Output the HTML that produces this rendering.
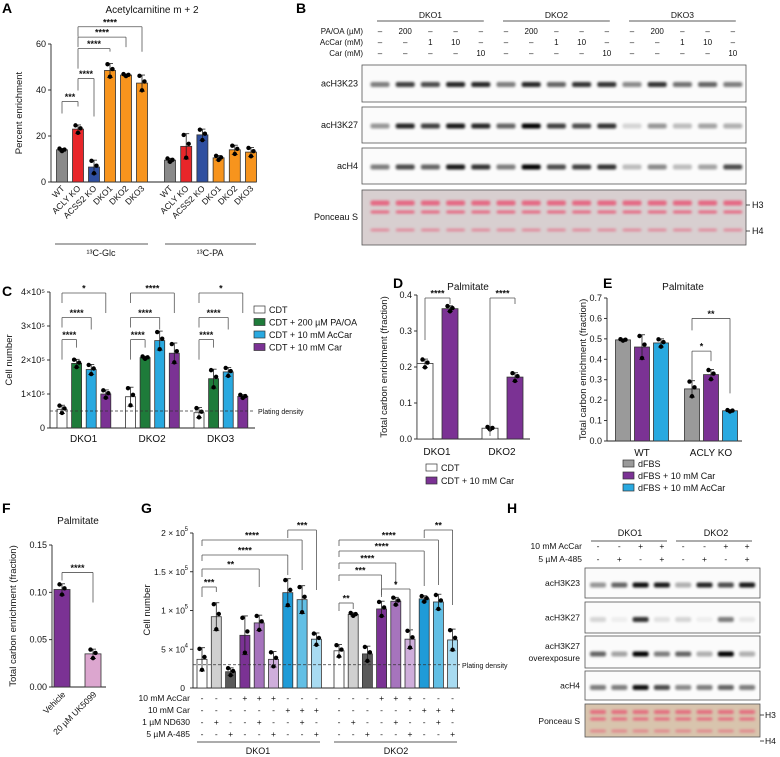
<!DOCTYPE html>
<html><head><meta charset="utf-8">
<style>
html,body{margin:0;padding:0;background:#fff;}
svg{display:block;font-family:"Liberation Sans",Arial,sans-serif;}
</style></head>
<body>
<svg id="fig" width="780" height="757" viewBox="0 0 780 757" xmlns="http://www.w3.org/2000/svg">
<defs>
<filter id="blur" x="-30%" y="-100%" width="160%" height="300%"><feGaussianBlur stdDeviation="1.3"/></filter>
</defs>
<g id="root"></g>
</svg>
<script>
// ---------- Panel A data ----------
const aCats = ["WT","ACLY KO","ACSS2 KO","DKO1","DKO2","DKO3"];
const aGlc = [14, 23, 6.5, 48.5, 46.5, 43];
const aGlcErr = [0.6, 1.8, 3, 3, 0.5, 3.5];
const aPA = [9.5, 15.5, 20.5, 10.5, 14, 13];
const aPAErr = [0.8, 5.5, 2.5, 1, 2, 2];
const aTicks = [0, 20, 40, 60];
// ---------- Panel C data ----------
const cGroups = ["DKO1","DKO2","DKO3"];
const cSeries = ["CDT","CDT + 200 \u00b5M PA/OA","CDT + 10 mM AcCar","CDT + 10 mM Car"];
const cCDT = [0.55, 0.92, 0.45];
const cPAOA = [1.9, 2.07, 1.45];
const cAcCar = [1.72, 2.57, 1.65];
const cCar = [1.0, 2.2, 0.93];
const cErr = [[0.12,0.28,0.15],[0.12,0.04,0.28],[0.15,0.28,0.13],[0.12,0.3,0.05]];
const cTicks = [0, 1, 2, 3, 4];
const cPlating = 0.5;
// ---------- Panel D data ----------
const dGroups = ["DKO1","DKO2"];
const dCDT = [0.21, 0.03];
const dCar = [0.362, 0.172];
const dErr = [[0.012,0.004],[0.008,0.012]];
const dTicks = [0, 0.1, 0.2, 0.3, 0.4];
// ---------- Panel E data ----------
const eGroups = ["WT","ACLY KO"];
const eFBS = [0.495, 0.255];
const eCar = [0.46, 0.325];
const eAcCar = [0.48, 0.148];
const eErr = [[0.004,0.04],[0.06,0.025],[0.02,0.004]];
const eTicks = [0, 0.1, 0.2, 0.3, 0.4, 0.5, 0.6, 0.7];
// ---------- Panel F data ----------
const fCats = ["Vehicle","20 \u00b5M UK5099"];
const fVals = [0.103, 0.035];
const fErr = [0.006, 0.005];
const fTicks = [0, 0.05, 0.10, 0.15];
// ---------- Panel G data ----------
const gDKO1 = [0.37, 0.92, 0.21, 0.68, 0.84, 0.37, 1.23, 1.14, 0.63];
const gDKO2 = [0.48, 0.95, 0.44, 1.02, 1.12, 0.63, 1.15, 1.11, 0.62];
const gErr1 = [0.15, 0.18, 0.05, 0.25, 0.1, 0.1, 0.18, 0.18, 0.08];
const gErr2 = [0.08, 0.02, 0.1, 0.1, 0.05, 0.12, 0.04, 0.1, 0.14];
const gTickVals = [0, 0.5, 1, 1.5, 2];
const gTickLabels = ["0","5 \u00d7 10","1 \u00d7 10","1.5 \u00d7 10","2 \u00d7 10"];
const gTickExp = ["","4","5","5","5"];
const gPlating = 0.3;
const gAcCar = ["-","-","-","+","+","+","-","-","-"];
const gCar = ["-","-","-","-","-","-","+","+","+"];
const gND = ["-","+","-","-","+","-","-","+","-"];
const gA485 = ["-","-","+","-","-","+","-","-","+"];
// ---------- Blot data ----------
const bK23 = [.5,.75,.7,.85,.85,.5,.85,.6,.8,.8,.45,.8,.55,.6,.5];
const bK27 = [.4,.85,.75,.9,.85,.6,1,.75,.7,.8,.15,.4,.25,.35,.3];
const bH4 = [.5,.7,.6,.9,.8,.5,1,.7,.75,.8,.25,.45,.25,.35,.7];
const bPAOA = ["\u2013","200","\u2013","\u2013","\u2013"];
const bAcCar = ["\u2013","\u2013","1","10","\u2013"];
const bCar = ["\u2013","\u2013","\u2013","\u2013","10"];
const hK23 = [.4,.6,.95,.9,.3,.85,.7,.9];
const hK27 = [.15,.05,.8,.1,.15,.05,.5,.08];
const hK27o = [.6,.35,1,.5,.6,.3,1,.3];
const hH4 = [.5,.5,.95,.7,.45,.5,.6,.5];
const hAcCar = ["-","-","+","+","-","-","+","+"];
const hA485 = ["-","+","-","+","-","+","-","+"];

const NS = "http://www.w3.org/2000/svg";
const root = document.getElementById("root");
function mk(tag, attrs, parent, txt){
  const e = document.createElementNS(NS, tag);
  for (const k in attrs) e.setAttribute(k, attrs[k]);
  if (txt !== undefined) e.textContent = txt;
  (parent || root).appendChild(e);
  return e;
}
function grp(name){
  const g = mk("g", {});
  
  
  return g;
}
function txt(g, x, y, s, size, anchor, name, extra){
  const a = {x:x, y:y, "font-size":size||9, "text-anchor":anchor||"middle", fill:"#111"};
  if (extra) for (const k in extra) a[k]=extra[k];
  const t = mk("text", a, g, s);
  
  
  return t;
}
function line(g, x1,y1,x2,y2, color, w, dash){
  const a = {x1:x1,y1:y1,x2:x2,y2:y2,stroke:color||"#222","stroke-width":w||0.8};
  if (dash) a["stroke-dasharray"]=dash;
  const l = mk("line", a, g);
  
  
  return l;
}
function yAxis(g, x, y0, yTop, max, ticks, fmt, title, titleX){
  const sc = v => y0 - v*(y0-yTop)/max;
  line(g, x, y0, x, yTop, "#222", 0.9);
  ticks.forEach(t => {
    line(g, x-3, sc(t), x, sc(t), "#222", 0.9);
    txt(g, x-5, sc(t)+3, fmt(t), 9, "end", "y-tick-label");
  });
  if (title) {
    const tt = txt(g, titleX, (y0+yTop)/2, title, 9.5, "middle", "y-axis-title", {transform:"rotate(-90 "+titleX+" "+((y0+yTop)/2)+")"});
  }
  return sc;
}
function bar(g, cx, w, sc, v, err, fill, name){
  const r = mk("rect", {x:cx-w/2, y:sc(v), width:w, height:sc(0)-sc(v), fill:fill, stroke:"#333","stroke-width":0.8}, g);
  
  
  line(g, cx, sc(v-err), cx, sc(v+err), "#222", 0.8);
  line(g, cx-3, sc(v+err), cx+3, sc(v+err), "#222", 0.8);
  line(g, cx-3, sc(v-err), cx+3, sc(v-err), "#222", 0.8);
  [[-2.5, 0.9],[0,-0.9],[2.5,0.2]].forEach(p => {
    const c = mk("circle", {cx:cx+p[0], cy:sc(v+p[1]*err), r:2.2, fill:"#000"}, g);
    
    
  });
}
function bracket(g, x1, x2, yb, drop1, drop2, s){
  line(g, x1, yb+drop1, x1, yb, "#555", 0.8);
  line(g, x1, yb, x2, yb, "#555", 0.8);
  line(g, x2, yb, x2, yb+drop2, "#555", 0.8);
  txt(g, (x1+x2)/2, yb-1.5, s, 9, "middle", "significance-stars", {"font-weight":"bold"});
}
function swatch(g, x, y, fill, label, name){
  const r = mk("rect", {x:x, y:y-7, width:11, height:7, fill:fill, stroke:"#333","stroke-width":0.7}, g);
  
  
  txt(g, x+15, y, label, 9, "start", "legend-label");
}
function panelLabel(s, x, y){
  const t = mk("text", {x:x,y:y,"font-size":14,"font-weight":"bold",fill:"#000"}, root, s);
  
  
}

// ================= Panel A =================
(function(){
  const g = grp("panel-a-chart");
  panelLabel("A", 2, 13);
  txt(g, 152, 13, "Acetylcarnitine m + 2", 10, "middle", "chart-title");
  const sc = yAxis(g, 51, 182, 44, 60, aTicks, t => t, "Percent enrichment", 22);
  line(g, 51, 182, 256, 182, "#222", 0.9);
  const cols = ["#8a8a8a","#e8262a","#2f4fa0","#f7941d","#f7941d","#f7941d"];
  const x1 = i => 62 + i*16;
  const x2 = i => 170 + i*16.2;
  aGlc.forEach((v,i) => bar(g, x1(i), 11, sc, v, aGlcErr[i], cols[i], "bar-glc-"+i));
  aPA.forEach((v,i) => bar(g, x2(i), 11, sc, v, aPAErr[i], cols[i], "bar-pa-"+i));
  aCats.forEach((c,i) => {
    txt(g, x1(i)+3, 189, c, 8.5, "end", "x-tick-label", {transform:"rotate(-45 "+(x1(i)+3)+" 189)"});
    txt(g, x2(i)+3, 189, c, 8.5, "end", "x-tick-label", {transform:"rotate(-45 "+(x2(i)+3)+" 189)"});
  });
  line(g, 55, 244, 148, 244, "#222", 0.8);
  line(g, 165, 244, 256, 244, "#222", 0.8);
  txt(g, 101, 256, "\u00b9\u00b3C-Glc", 9, "middle", "group-label-glc");
  txt(g, 210, 256, "\u00b9\u00b3C-PA", 9, "middle", "group-label-pa");
  bracket(g, x1(0), x1(1), sc(35), 12, 5, "***");
  bracket(g, x1(1), x1(2), sc(45), 12, 38, "****");
  bracket(g, x1(1), x1(3), sc(58), 20, 3, "****");
  bracket(g, x1(1), x1(4), sc(63), 10, 10, "****");
  bracket(g, x1(1), x1(5), sc(67.5), 10, 25, "****");
})();

// ================= Blots =================
function blotBox(g, x, y, w, h, name, bg){
  const r = mk("rect", {x:x,y:y,width:w,height:h,fill:bg||"#fbfbfb",stroke:"#555","stroke-width":0.8}, g);
  
  
}
function bands(g, lanes, yc, vals, bw, bh, color){
  vals.forEach((v,i) => {
    const b = mk("rect", {x:lanes(i)-bw/2, y:yc-bh/2, width:bw, height:bh, rx:2, fill:color||"#000", opacity:Math.max(0.05,v), filter:"url(#blur)"}, g);
    
    
  });
}
(function(){
  const g = grp("panel-b-blot");
  panelLabel("B", 296, 13);
  const lx = i => 380 + i*25.2;
  ["DKO1","DKO2","DKO3"].forEach((s,k) => {
    txt(g, lx(k*5+2), 18, s, 8.5, "middle", "blot-group-label");
    line(g, lx(k*5)-3, 21, lx(k*5+4)+3, 21, "#222", 0.8);
  });
  const rows = [["PA/OA (\u00b5M)",bPAOA,34],["AcCar (mM)",bAcCar,45],["Car (mM)",bCar,56]];
  rows.forEach(r => {
    txt(g, 363, r[2], r[0], 8, "end", "condition-label");
    for (let i=0;i<15;i++) txt(g, lx(i), r[2], r[1][i%5], 8, "middle", "condition-value");
  });
  const boxes = [["acH3K23",65,37,bK23],["acH3K27",107,36,bK27],["acH4",148,36,bH4]];
  boxes.forEach(b => {
    blotBox(g, 362, b[1], 384, b[2], "blot-"+b[0]);
    txt(g, 358, b[1]+b[2]/2+3, b[0], 9, "end", "blot-row-label");
    bands(g, lx, b[1]+b[2]/2+1, b[3], 19, 5);
  });
  blotBox(g, 362, 190, 384, 55, "blot-ponceau", "#d8cfd0");
  txt(g, 358, 220, "Ponceau S", 9, "end", "blot-row-label");
  const pon = bK23.map(()=>0.8);
  bands(g, lx, 203, pon, 19, 5, "#e8506f");
  bands(g, lx, 212, pon, 19, 3, "#e8506f");
  bands(g, lx, 230, pon.map(()=>0.5), 19, 3, "#e8506f");
  line(g, 746, 205, 750, 205, "#222", 0.8);
  line(g, 746, 231, 750, 231, "#222", 0.8);
  txt(g, 752, 208, "H3", 9, "start", "marker-h3");
  txt(g, 752, 234, "H4", 9, "start", "marker-h4");
})();
(function(){
  const g = grp("panel-h-blot");
  panelLabel("H", 507, 513);
  const lx = i => 598 + i*21.3;
  txt(g, 630, 536, "DKO1", 9, "middle", "blot-group-label");
  txt(g, 716, 536, "DKO2", 9, "middle", "blot-group-label");
  line(g, 591, 541, 667, 541, "#222", 0.8);
  line(g, 676, 541, 752, 541, "#222", 0.8);
  txt(g, 582, 549, "10 mM AcCar", 8.5, "end", "condition-label");
  txt(g, 582, 562, "5 \u00b5M A-485", 8.5, "end", "condition-label");
  for (let i=0;i<8;i++){ txt(g, lx(i), 549, hAcCar[i], 8.5, "middle", "condition-value"); txt(g, lx(i), 562, hA485[i], 8.5, "middle", "condition-value"); }
  const boxes = [["acH3K23",568,30,hK23],["acH3K27",602,31,hK27],["acH3K27 overexposure",636,32,hK27o],["acH4",671,29,hH4]];
  boxes.forEach(b => {
    blotBox(g, 585, b[1], 175, b[2], "blot-"+b[0].replace(" ","-"));
    if (b[0].indexOf(" ")>0){
      txt(g, 580, b[1]+13, "acH3K27", 8.5, "end", "blot-row-label");
      txt(g, 580, b[1]+25, "overexposure", 8.5, "end", "blot-row-label");
    } else txt(g, 580, b[1]+b[2]/2+3, b[0], 8.5, "end", "blot-row-label");
    bands(g, lx, b[1]+b[2]/2+2, b[3], 16, 5);
  });
  blotBox(g, 585, 704, 175, 33, "blot-ponceau", "#d8c4ad");
  txt(g, 580, 724, "Ponceau S", 8.5, "end", "blot-row-label");
  const pon = hK23.map(()=>0.75);
  bands(g, lx, 712, pon, 16, 4, "#e8506f");
  bands(g, lx, 719, pon, 16, 3, "#e8506f");
  bands(g, lx, 731, pon.map(()=>0.5), 16, 3, "#e8506f");
  line(g, 760, 715, 764, 715, "#222", 0.8);
  line(g, 760, 741, 764, 741, "#222", 0.8);
  txt(g, 765, 718, "H3", 8.5, "start", "marker-h3");
  txt(g, 765, 744, "H4", 8.5, "start", "marker-h4");
})();

// ================= Panel C =================
(function(){
  const g = grp("panel-c-chart");
  panelLabel("C", 2, 296);
  const sc = yAxis(g, 50, 428, 292, 4, cTicks, t => t===0 ? "0" : t+"\u00d710\u2075", "Cell number", 12);
  line(g, 50, 428, 255, 428, "#222", 0.9);
  const series = [cCDT, cPAOA, cAcCar, cCar];
  const cols = ["#ffffff","#1e7b3a","#29a9e0","#7b3294"];
  const bx = (gi, si) => 62 + gi*68.5 + si*14.6;
  series.forEach((s,si) => s.forEach((v,gi) => bar(g, bx(gi,si), 10, sc, v, cErr[si][gi], cols[si], "bar-"+cGroups[gi]+"-"+si)));
  cGroups.forEach((c,gi) => txt(g, bx(gi,1)+7, 442, c, 10, "middle", "x-tick-label"));
  line(g, 50, sc(cPlating), 255, sc(cPlating), "#333", 0.8, "3,2");
  txt(g, 258, sc(cPlating)+3, "Plating density", 7, "start", "plating-density-label");
  cGroups.forEach((c,gi) => {
    const top = [1.8, 2.7, 1.8][gi];
    bracket(g, bx(gi,0), bx(gi,1), sc(2.6), 20, 8, "****");
    bracket(g, bx(gi,0), bx(gi,2), sc(3.25), 10, 12, "****");
    bracket(g, bx(gi,0), bx(gi,3), sc(3.97), 10, 20, gi===1?"****":"*");
  });
  cSeries.forEach((s,i) => swatch(g, 254, 313+i*12.5, cols[i], s, "legend-swatch-"+i));
})();

// ================= Panel D =================
(function(){
  const g = grp("panel-d-chart");
  panelLabel("D", 393, 288);
  txt(g, 468, 290, "Palmitate", 10, "middle", "chart-title");
  const sc = yAxis(g, 417, 439, 295, 0.4, dTicks, t => t.toFixed(1), "Total carbon enrichment (fraction)", 387);
  line(g, 417, 439, 530, 439, "#222", 0.9);
  const bx = (gi, si) => 425 + gi*65 + si*25;
  dCDT.forEach((v,gi) => bar(g, bx(gi,0), 16, sc, v, dErr[0][gi], "#ffffff", "bar-cdt-"+gi));
  dCar.forEach((v,gi) => bar(g, bx(gi,1), 16, sc, v, dErr[1][gi], "#7b3294", "bar-car-"+gi));
  dGroups.forEach((c,gi) => { txt(g, bx(gi,0)+12, 455, c, 10, "middle", "x-tick-label"); bracket(g, bx(gi,0), bx(gi,1), 298, gi===0?42:138, 6, "****"); });
  swatch(g, 426, 471, "#ffffff", "CDT", "legend-swatch-cdt");
  swatch(g, 426, 484, "#7b3294", "CDT + 10 mM Car", "legend-swatch-car");
})();

// ================= Panel E =================
(function(){
  const g = grp("panel-e-chart");
  panelLabel("E", 603, 288);
  txt(g, 683, 290, "Palmitate", 10, "middle", "chart-title");
  const sc = yAxis(g, 607, 441, 298, 0.7, eTicks, t => t.toFixed(1), "Total carbon enrichment (fraction)", 586);
  line(g, 607, 441, 742, 441, "#222", 0.9);
  const bx = (gi, si) => 623 + gi*69 + si*19;
  const cols = ["#9a9a9a","#7b3294","#29a9e0"];
  [eFBS, eCar, eAcCar].forEach((s,si) => s.forEach((v,gi) => bar(g, bx(gi,si), 15, sc, v, eErr[si][gi], cols[si], "bar-"+eGroups[gi]+"-"+si)));
  eGroups.forEach((c,gi) => txt(g, bx(gi,1), 456, c, 10, "middle", "x-tick-label"));
  bracket(g, bx(1,0), bx(1,1), sc(0.44), 30, 10, "*");
  bracket(g, bx(1,0), bx(1,2), sc(0.6), 12, 75, "**");
  swatch(g, 623, 467, cols[0], "dFBS", "legend-swatch-dfbs");
  swatch(g, 623, 479, cols[1], "dFBS + 10 mM Car", "legend-swatch-car");
  swatch(g, 623, 491, cols[2], "dFBS + 10 mM AcCar", "legend-swatch-accar");
})();

// ================= Panel F =================
(function(){
  const g = grp("panel-f-chart");
  panelLabel("F", 2, 513);
  txt(g, 78, 524, "Palmitate", 10, "middle", "chart-title");
  const sc = yAxis(g, 52, 687, 545, 0.15, fTicks, t => t.toFixed(2), "Total carbon enrichment (fraction)", 16);
  line(g, 52, 687, 106, 687, "#222", 0.9);
  const cols = ["#7b3294","#dca6cf"];
  const bx = i => 62 + i*31;
  fVals.forEach((v,i) => bar(g, bx(i), 16, sc, v, fErr[i], cols[i], "bar-"+i));
  fCats.forEach((c,i) => txt(g, bx(i)+4, 695, c, 8.5, "end", "x-tick-label", {transform:"rotate(-45 "+(bx(i)+4)+" 695)"}));
  bracket(g, bx(0), bx(1), sc(0.121), 8, 30, "****");
})();

// ================= Panel G =================
(function(){
  const g = grp("panel-g-chart");
  panelLabel("G", 141, 513);
  const sc = v => 688 - v*77.5;
  line(g, 193, 688, 193, 533, "#222", 0.9);
  gTickVals.forEach((t,i) => {
    line(g, 190, sc(t), 193, sc(t), "#222", 0.9);
    const tt = txt(g, 185, sc(t)+3, gTickLabels[i], 8.5, "end", "y-tick-label");
    if (gTickExp[i]) txt(g, 188, sc(t)-2, gTickExp[i], 6, "end", "y-tick-exponent");
  });
  txt(g, 150, 610, "Cell number", 9.5, "middle", "y-axis-title", {transform:"rotate(-90 150 610)"});
  line(g, 193, 688, 460, 688, "#222", 0.9);
  const cols = ["#ffffff","#d0d0d0","#5a5a5a","#7b3294","#a674bd","#cfaedb","#1f9bd7","#62bfe5","#a8dbf1"];
  const x1 = i => 202 + i*14.3;
  const x2 = i => 339 + i*14.2;
  gDKO1.forEach((v,i) => bar(g, x1(i), 10, sc, v, gErr1[i], cols[i], "bar-dko1-"+i));
  gDKO2.forEach((v,i) => bar(g, x2(i), 10, sc, v, gErr2[i], cols[i], "bar-dko2-"+i));
  line(g, 193, sc(gPlating), 460, sc(gPlating), "#333", 0.8, "3,2");
  txt(g, 462, sc(gPlating)+3, "Plating density", 7, "start", "plating-density-label");
  const rows = [["10 mM AcCar",gAcCar,701],["10 mM Car",gCar,713],["1 \u00b5M ND630",gND,725],["5 \u00b5M A-485",gA485,737]];
  rows.forEach(r => {
    txt(g, 190, r[2], r[0], 8.5, "end", "condition-label");
    for (let i=0;i<9;i++){ txt(g, x1(i), r[2], r[1][i], 8.5, "middle", "condition-value"); txt(g, x2(i), r[2], r[1][i], 8.5, "middle", "condition-value"); }
  });
  line(g, 197, 742, 320, 742, "#222", 0.8);
  line(g, 334, 742, 457, 742, "#222", 0.8);
  txt(g, 258, 754, "DKO1", 9, "middle", "group-label-dko1");
  txt(g, 396, 754, "DKO2", 9, "middle", "group-label-dko2");
  bracket(g, x1(0), x1(1), 587, 10, 5, "***");
  bracket(g, x1(0), x1(4), 569, 8, 18, "**");
  bracket(g, x1(0), x1(6), 555, 6, 20, "****");
  bracket(g, x1(0), x1(7), 540, 6, 30, "****");
  bracket(g, x1(6), x1(8), 530, 8, 60, "***");
  bracket(g, x2(0), x2(1), 603, 8, 6, "**");
  bracket(g, x2(0), x2(3), 575, 6, 20, "***");
  bracket(g, x2(0), x2(4), 563, 6, 22, "****");
  bracket(g, x2(0), x2(6), 551, 6, 35, "****");
  bracket(g, x2(0), x2(7), 540, 6, 45, "****");
  bracket(g, x2(3), x2(5), 589, 8, 40, "*");
  bracket(g, x2(6), x2(8), 530, 8, 75, "**");
})();
</script>
</body></html>
